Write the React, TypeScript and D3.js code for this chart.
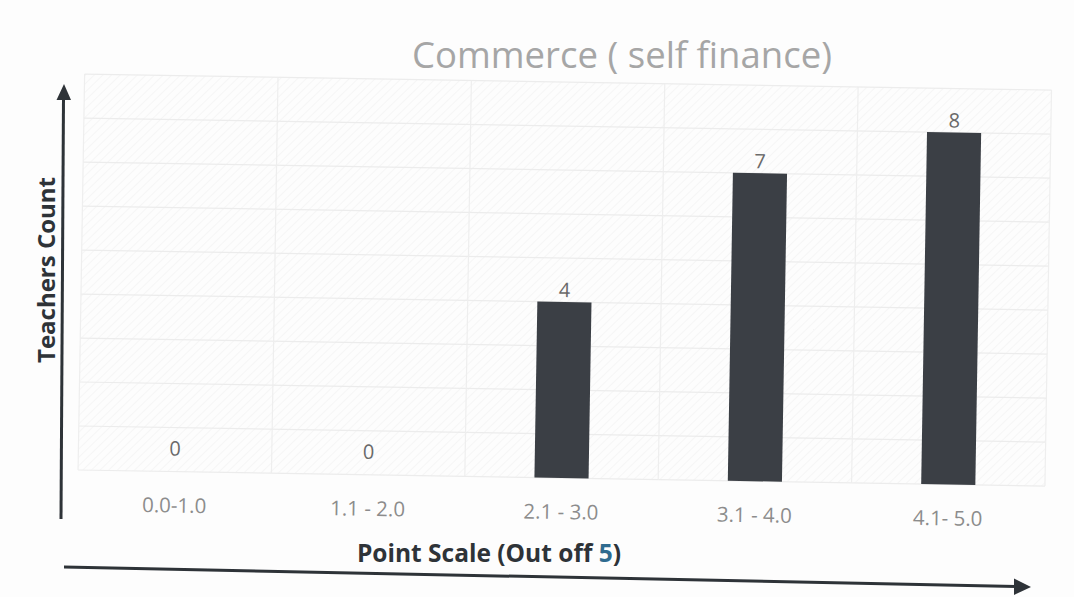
import React from "react";
import * as d3 from "d3";

const categories = ["0.0-1.0", "1.1 - 2.0", "2.1 - 3.0", "3.1 - 4.0", "4.1- 5.0"];
const counts = [0, 0, 4, 7, 8];
const yTicks = [0, 1, 2, 3, 4, 5, 6, 7, 8, 9];
const title = "Commerce ( self finance)";

const W = 1074;
const H = 597;
const plot = { left: 78, right: 1045, top: 82, bottom: 478 };
const skew = 0.95; // scan rotation in degrees

export default function App() {
  const x = d3.scaleBand<string>().domain(categories).range([plot.left, plot.right]).padding(0);
  const y = d3.scaleLinear().domain([0, 9]).range([plot.bottom, plot.top]);
  const barW = x.bandwidth() * 0.28;
  const font = "'Open Sans', 'Liberation Sans', sans-serif";
  const ink = "#2e3338";

  return (
    <svg
      width={W}
      height={H}
      style={{ position: "absolute", left: 0, top: 0, background: "#fdfdfd" }}
    >
      <defs>
        <pattern id="hatch" width="6" height="6" patternUnits="userSpaceOnUse" patternTransform="rotate(45)">
          <line x1="0" y1="0" x2="0" y2="6" stroke="#f3f3f3" strokeWidth="1.5" />
        </pattern>
      </defs>

      <g transform={`rotate(${skew}, 560, ${plot.bottom})`}>
        {/* plot area hatch */}
        <rect x={plot.left} y={plot.top} width={plot.right - plot.left} height={plot.bottom - plot.top} fill="url(#hatch)" />

        {/* horizontal grid */}
        {yTicks.map((t) => (
          <line key={"h" + t} x1={plot.left} x2={plot.right} y1={y(t)} y2={y(t)} stroke="#ececec" strokeWidth={1.2} />
        ))}
        {/* vertical grid at category boundaries */}
        {categories.map((c) => (
          <line key={"v" + c} x1={x(c)!} x2={x(c)!} y1={plot.top} y2={plot.bottom} stroke="#eeeeee" strokeWidth={1.2} />
        ))}
        <line x1={plot.right} x2={plot.right} y1={plot.top} y2={plot.bottom} stroke="#eeeeee" strokeWidth={1.2} />

        {/* bars */}
        {categories.map((c, i) => {
          const cx = x(c)! + x.bandwidth() / 2;
          const v = counts[i];
          return (
            <g key={"b" + c}>
              {v > 0 && (
                <rect x={cx - barW / 2} y={y(v)} width={barW} height={y(0) - y(v)} fill="#3b3f45" />
              )}
              <text x={cx} y={y(v) - (v > 0 ? 5 : 16)} textAnchor="middle" fontFamily={font} fontSize={20} fill="#6a6a6a">
                {v}
              </text>
              <text x={cx} y={plot.bottom + 41} textAnchor="middle" fontFamily={font} fontSize={20.5} fill="#8c8c8c">
                {c}
              </text>
            </g>
          );
        })}
      </g>

      {/* title */}
      <text x={622} y={68} textAnchor="middle" fontFamily={font} fontSize={36.5} fill="#a6a6a6">
        {title}
      </text>

      {/* y axis arrow */}
      <line x1={61} y1={519} x2={63.5} y2={98} stroke={ink} strokeWidth={3} />
      <path d="M 56.5 100 L 64 84 L 71 100 Z" fill={ink} />
      <text
        transform="translate(55,270) rotate(-90)"
        textAnchor="middle"
        fontFamily={font}
        fontSize={24}
        fontWeight="bold"
        fill={ink}
      >
        Teachers Count
      </text>

      {/* x axis arrow */}
      <line x1={64} y1={567} x2={1016} y2={586.5} stroke={ink} strokeWidth={3} />
      <path d="M 1014 578.5 L 1031 587 L 1014 595 Z" fill={ink} />
      <text x={489} y={562} textAnchor="middle" fontFamily={font} fontSize={24.5} fontWeight="bold" fill={ink}>
        Point Scale (Out off <tspan fill="#2f6b8f">5</tspan>)
      </text>
    </svg>
  );
}
